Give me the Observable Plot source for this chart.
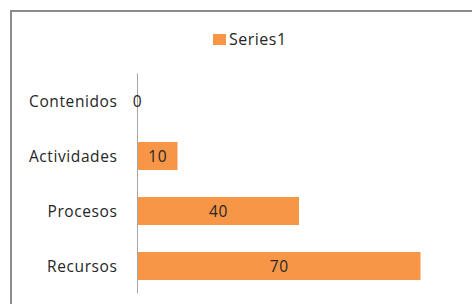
<!DOCTYPE html>
<html>
<head>
<meta charset="utf-8">
<script src="https://cdn.jsdelivr.net/npm/d3@7"></script>
<script src="https://cdn.jsdelivr.net/npm/@observablehq/plot@0.6"></script>
<style>
  html, body { margin: 0; padding: 0; background: #fff; }
  #wrap { position: relative; width: 472px; height: 304px; overflow: hidden; font-family: "Open Sans", sans-serif; }
  #frame { position: absolute; left: 10px; top: 10px; width: 480px; height: 320px; border: 2px solid #8c8c8c; box-sizing: border-box; }
  #legend { position: absolute; left: 213px; top: 28px; font-size: 16px; letter-spacing: 0.5px; color: #262626; display: flex; align-items: center; }
  #legend .sw { width: 13px; height: 11px; background: #f79646; margin-right: 3px; }
  #chart { position: absolute; left: 0; top: 0; }
  #chart svg text { letter-spacing: 0.6px; }
</style>
</head>
<body>
<div id="wrap">
  <div id="frame"></div>
  <div id="chart"></div>
  <div id="legend"></div>
</div>
<script>
const categories = ["Contenidos", "Actividades", "Procesos", "Recursos"];
const values = [0, 10, 40, 70];
const seriesName = "Series1";
const barColor = "#f79646";

const data = categories.map((c, i) => ({category: c, value: values[i]}));

const legend = document.getElementById("legend");
legend.innerHTML = `<span class="sw"></span><span>${seriesName}</span>`;

const chart = Plot.plot({
  width: 472,
  height: 304,
  marginLeft: 137,
  marginRight: 11,
  marginTop: 73.5,
  marginBottom: 10.5,
  style: {fontFamily: "'Open Sans', sans-serif", fontSize: "15.5px", color: "#262626", background: "transparent"},
  x: {domain: [0, 80], axis: null},
  y: {domain: categories, paddingInner: 0.5, paddingOuter: 0.25, label: null, axis: null},
  marks: [
    Plot.axisY({tickSize: 0, tickPadding: 20, dy: 1, label: null}),
    Plot.barX(data, {x: "value", y: "category", fill: barColor}),
    Plot.ruleX([0], {stroke: "#a6a6a6", strokeWidth: 1}),
    Plot.text(data, {x: d => d.value / 2, y: "category", dy: 1, text: d => String(d.value), fill: "#262626", fontSize: 15.5})
  ]
});
document.getElementById("chart").appendChild(chart);
</script>
</body>
</html>
